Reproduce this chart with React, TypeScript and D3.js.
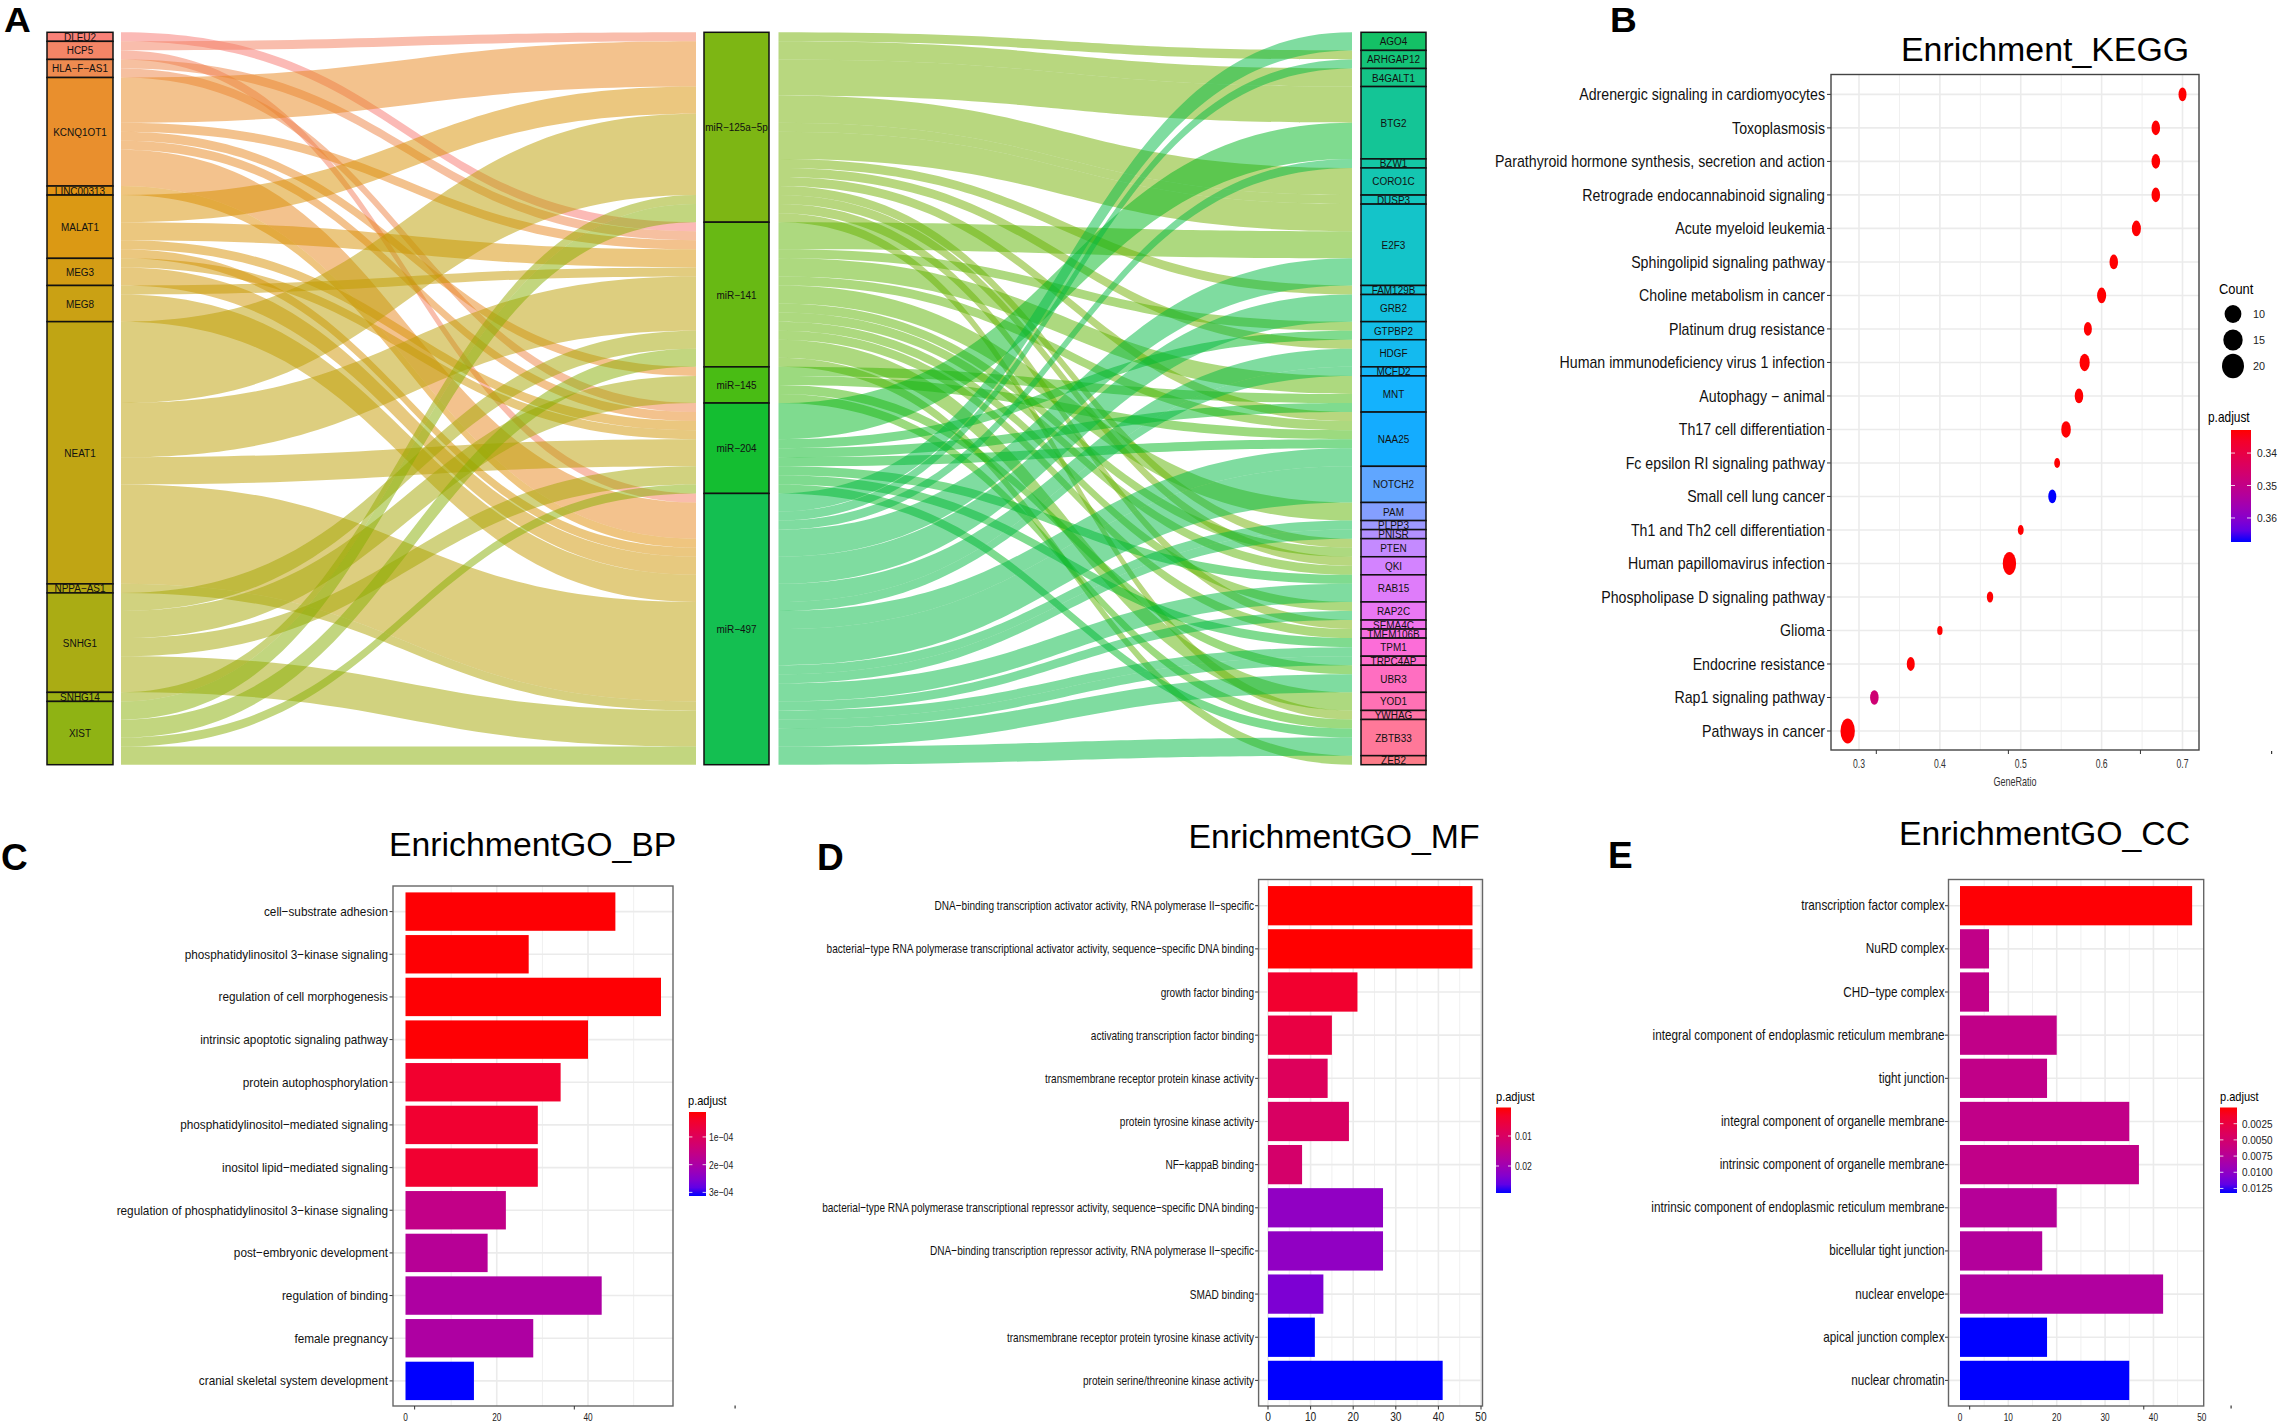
import React from "react";
import * as d3 from "d3";

// ---------- Panel A data ----------
const lncNodes = ["DLEU2","HCP5","HLA−F−AS1","KCNQ1OT1","LINC00313","MALAT1","MEG3","MEG8","NEAT1","NPPA−AS1","SNHG1","SNHG14","XIST"];
const mirNodes = ["miR−125a−5p","miR−141","miR−145","miR−204","miR−497"];
const targetNodes = ["AGO4","ARHGAP12","B4GALT1","BTG2","BZW1","CORO1C","DUSP3","E2F3","FAM129B","GRB2","GTPBP2","HDGF","MCFD2","MNT","NAA25","NOTCH2","PAM","PLPP3","PNISR","PTEN","QKI","RAB15","RAP2C","SEMA4C","TMEM106B","TPM1","TRPC4AP","UBR3","YOD1","YWHAG","ZBTB33","ZEB2"];

const lncMirLinks: [string, string, number][] = [
  ["DLEU2","miR−141",1],
  ["HCP5","miR−125a−5p",1],["HCP5","miR−497",1],
  ["HLA−F−AS1","miR−141",1],["HLA−F−AS1","miR−204",1],
  ["KCNQ1OT1","miR−125a−5p",5],["KCNQ1OT1","miR−141",1],["KCNQ1OT1","miR−145",1],["KCNQ1OT1","miR−204",1],["KCNQ1OT1","miR−497",4],
  ["LINC00313","miR−497",1],
  ["MALAT1","miR−125a−5p",3],["MALAT1","miR−141",2],["MALAT1","miR−204",1],["MALAT1","miR−497",1],
  ["MEG3","miR−204",1],["MEG3","miR−497",2],
  ["MEG8","miR−141",1],["MEG8","miR−497",3],
  ["NEAT1","miR−125a−5p",9],["NEAT1","miR−141",6],["NEAT1","miR−204",3],["NEAT1","miR−497",11],
  ["NPPA−AS1","miR−497",1],
  ["SNHG1","miR−141",2],["SNHG1","miR−145",3],["SNHG1","miR−204",2],["SNHG1","miR−497",4],
  ["SNHG14","miR−125a−5p",1],
  ["XIST","miR−125a−5p",2],["XIST","miR−141",2],["XIST","miR−204",1],["XIST","miR−497",2],
];
const mirTargetLinks: [string, string, number][] = [
  ["miR−125a−5p","ARHGAP12",1],["miR−125a−5p","B4GALT1",2],["miR−125a−5p","BTG2",4],["miR−125a−5p","CORO1C",3],["miR−125a−5p","DUSP3",1],["miR−125a−5p","E2F3",3],["miR−125a−5p","FAM129B",1],["miR−125a−5p","HDGF",1],["miR−125a−5p","NAA25",1],["miR−125a−5p","PTEN",1],["miR−125a−5p","QKI",1],["miR−125a−5p","SEMA4C",1],["miR−125a−5p","YWHAG",1],
  ["miR−141","E2F3",3],["miR−141","GTPBP2",1],["miR−141","MNT",2],["miR−141","NAA25",1],["miR−141","PAM",2],["miR−141","PTEN",1],["miR−141","QKI",1],["miR−141","RAP2C",1],["miR−141","TMEM106B",1],["miR−141","YOD1",2],["miR−141","ZEB2",1],
  ["miR−145","MNT",1],["miR−145","NAA25",1],["miR−145","UBR3",1],["miR−145","ZBTB33",1],
  ["miR−204","BTG2",4],["miR−204","GTPBP2",1],["miR−204","MNT",1],["miR−204","NAA25",1],["miR−204","RAB15",1],["miR−204","TPM1",1],["miR−204","ZBTB33",1],
  ["miR−497","AGO4",2],["miR−497","ARHGAP12",1],["miR−497","BZW1",1],["miR−497","E2F3",3],["miR−497","GRB2",3],["miR−497","HDGF",2],["miR−497","MCFD2",1],["miR−497","NAA25",2],["miR−497","NOTCH2",4],["miR−497","PLPP3",1],["miR−497","PNISR",1],["miR−497","RAB15",2],["miR−497","RAP2C",1],["miR−497","TPM1",1],["miR−497","TRPC4AP",1],["miR−497","UBR3",2],["miR−497","ZBTB33",2],
];

// ---------- Panel B data ----------
const keggTerms = ["Adrenergic signaling in cardiomyocytes","Toxoplasmosis","Parathyroid hormone synthesis, secretion and action","Retrograde endocannabinoid signaling","Acute myeloid leukemia","Sphingolipid signaling pathway","Choline metabolism in cancer","Platinum drug resistance","Human immunodeficiency virus 1 infection","Autophagy − animal","Th17 cell differentiation","Fc epsilon RI signaling pathway","Small cell lung cancer","Th1 and Th2 cell differentiation","Human papillomavirus infection","Phospholipase D signaling pathway","Glioma","Endocrine resistance","Rap1 signaling pathway","Pathways in cancer"];
const keggRatio = [0.7,0.667,0.667,0.667,0.643,0.615,0.6,0.583,0.579,0.572,0.556,0.545,0.539,0.5,0.486,0.462,0.4,0.364,0.319,0.286];
const keggCount = [10,11,11,11,12,11,12,10,14,11,13,6,10,6,20,7,5,10,11,22];
const keggP = [0.333,0.333,0.333,0.333,0.333,0.333,0.333,0.333,0.333,0.333,0.333,0.333,0.3674,0.333,0.333,0.333,0.333,0.333,0.347,0.333];

// ---------- Panel C data ----------
const bpTerms = ["cell−substrate adhesion","phosphatidylinositol 3−kinase signaling","regulation of cell morphogenesis","intrinsic apoptotic signaling pathway","protein autophosphorylation","phosphatidylinositol−mediated signaling","inositol lipid−mediated signaling","regulation of phosphatidylinositol 3−kinase signaling","post−embryonic development","regulation of binding","female pregnancy","cranial skeletal system development"];
const bpCount = [46,27,56,40,34,29,29,22,18,43,28,15];
const bpP = [1.2e-5,1.2e-5,1.2e-5,1.2e-5,4.6e-5,4.8e-5,4.8e-5,1.6e-4,1.8e-4,1.95e-4,1.95e-4,3.13e-4];

// ---------- Panel D data ----------
const mfTerms = ["DNA−binding transcription activator activity, RNA polymerase II−specific","bacterial−type RNA polymerase transcriptional activator activity, sequence−specific DNA binding","growth factor binding","activating transcription factor binding","transmembrane receptor protein kinase activity","protein tyrosine kinase activity","NF−kappaB binding","bacterial−type RNA polymerase transcriptional repressor activity, sequence−specific DNA binding","DNA−binding transcription repressor activity, RNA polymerase II−specific","SMAD binding","transmembrane receptor protein tyrosine kinase activity","protein serine/threonine kinase activity"];
const mfCount = [48,48,21,15,14,19,8,27,27,13,11,41];
const mfP = [0.0005,0.0005,0.0039,0.0062,0.0091,0.01,0.011,0.0219,0.0219,0.0239,0.029,0.029];

// ---------- Panel E data ----------
const ccTerms = ["transcription factor complex","NuRD complex","CHD−type complex","integral component of endoplasmic reticulum membrane","tight junction","integral component of organelle membrane","intrinsic component of organelle membrane","intrinsic component of endoplasmic reticulum membrane","bicellular tight junction","nuclear envelope","apical junction complex","nuclear chromatin"];
const ccCount = [48,6,6,20,18,35,37,20,17,42,18,35];
const ccP = [0.0001,0.0066,0.0066,0.0066,0.0066,0.0066,0.0066,0.0075,0.0077,0.0079,0.0132,0.0132];

const FONT = "'Liberation Sans', Arial, sans-serif";

// R's hcl() works in polar LUV, which is where the ggplot hue palette comes from.
function hueColor(h: number, c = 100, l = 65) {
  const r = (h * Math.PI) / 180;
  const u = c * Math.cos(r), v = c * Math.sin(r);
  const Y = Math.pow((l + 16) / 116, 3);
  const U = u / (13 * l) + 0.19793943, V = v / (13 * l) + 0.46831096;
  const X = (9 * Y * U) / (4 * V);
  const Z = -X / 3 - 5 * Y + (3 * Y) / V;
  const lin = [3.2406 * X - 1.5372 * Y - 0.4986 * Z, -0.9689 * X + 1.8758 * Y + 0.0415 * Z, 0.0557 * X - 0.204 * Y + 1.057 * Z];
  const g = lin.map((p) => {
    const q = Math.max(0, Math.min(1, p));
    return 255 * (q <= 0.0031308 ? 12.92 * q : 1.055 * Math.pow(q, 1 / 2.4) - 0.055);
  });
  return d3.rgb(g[0], g[1], g[2]).formatHex();
}
const allNodes = [...lncNodes, ...mirNodes, ...targetNodes];
const nodeColor = (n: string) => hueColor(15 + (360 * allNodes.indexOf(n)) / allNodes.length);
const gradient = d3.interpolateLab("#ff0000", "#0000ff");

function Txt({ x, y, size, sx = 1, anchor = "start", weight, fill = "#000", children }: any) {
  return (
    <text transform={`translate(${x},${y}) scale(${sx},1)`} fontSize={size} textAnchor={anchor} fontWeight={weight} fill={fill} fontFamily={FONT}>
      {children}
    </text>
  );
}

// ---------- Sankey ----------
function stack(nodes: string[], links: [string, string, number][], idx: 0 | 1) {
  const pos = new Map<string, [number, number]>();
  let c = 0;
  nodes.forEach((n) => {
    const w = d3.sum(links.filter((l) => l[idx] === n), (l) => l[2]);
    pos.set(n, [c, c + w]);
    c += w;
  });
  return pos;
}
const xColLnc: [number, number] = [47, 113];
const xColMir: [number, number] = [704, 769];
const xColTar: [number, number] = [1361, 1426];
const totalUnits = d3.sum(lncMirLinks, (l) => l[2]);
const yUnit = d3.scaleLinear().domain([0, totalUnits]).range([32.3, 764.7]);
const ribbon = d3.area<any>().x((d) => d.x).y0((d) => d.y0).y1((d) => d.y1).curve(d3.curveBumpX);

function Flows({ links, leftNodes, rightNodes, x0, x1 }: any) {
  const lp = stack(leftNodes, links, 0);
  const rp = stack(rightNodes, links, 1);
  const lOff = new Map<string, number>();
  const rOff = new Map<string, number>();
  const sortedLeft = [...links].sort((a: any, b: any) => leftNodes.indexOf(a[0]) - leftNodes.indexOf(b[0]) || rightNodes.indexOf(a[1]) - rightNodes.indexOf(b[1]));
  return (
    <g>
      {sortedLeft.map((l: any, i: number) => {
        const [s, t, w] = l;
        const a = lp.get(s)![0] + (lOff.get(s) || 0);
        lOff.set(s, (lOff.get(s) || 0) + w);
        const b = rp.get(t)![0] + (rOff.get(t) || 0);
        rOff.set(t, (rOff.get(t) || 0) + w);
        return (
          <path key={i} fill={nodeColor(s)} fillOpacity={0.5}
            d={ribbon([{ x: x0, y0: yUnit(a), y1: yUnit(a + w) }, { x: x1, y0: yUnit(b), y1: yUnit(b + w) }]) as string} />
        );
      })}
    </g>
  );
}
function Strata({ nodes, pos, x }: any) {
  return (
    <g>
      {nodes.map((n: string) => {
        const [a, b] = pos.get(n);
        const y0 = yUnit(a), y1 = yUnit(b);
        return (
          <g key={n}>
            <rect x={x[0]} y={y0} width={x[1] - x[0]} height={y1 - y0} fill={nodeColor(n)} fillOpacity={0.92} stroke="#111" strokeWidth={1.5} />
            <Txt x={(x[0] + x[1]) / 2} y={(y0 + y1) / 2 + 4} size={10.6} sx={0.94} anchor="middle" fill="#111">{n}</Txt>
          </g>
        );
      })}
    </g>
  );
}
function PanelA() {
  return (
    <g>
      <Flows links={lncMirLinks} leftNodes={lncNodes} rightNodes={mirNodes} x0={121} x1={696} />
      <Flows links={mirTargetLinks} leftNodes={mirNodes} rightNodes={targetNodes} x0={778.5} x1={1352} />
      <Strata nodes={lncNodes} pos={stack(lncNodes, lncMirLinks, 0)} x={xColLnc} />
      <Strata nodes={mirNodes} pos={stack(mirNodes, lncMirLinks, 1)} x={xColMir} />
      <Strata nodes={targetNodes} pos={stack(targetNodes, mirTargetLinks, 1)} x={xColTar} />
    </g>
  );
}

// ---------- Legend colour bar ----------
function ColorBar({ title, titleX, titleY, x0, x1, y0, y1, domain, ticks, labels, labelX, id, size = 10.5, sx = 0.9, titleSize = 13.5, titleSx = 0.85 }: any) {
  const y = d3.scaleLinear().domain(domain).range([y0, y1]);
  const w = x1 - x0;
  const stops = d3.range(0, 1.001, 0.1);
  return (
    <g>
      <defs>
        <linearGradient id={id} x1="0" y1="0" x2="0" y2="1">
          {stops.map((t) => <stop key={t} offset={t} stopColor={gradient(t)} />)}
        </linearGradient>
      </defs>
      <Txt x={titleX} y={titleY} size={titleSize} sx={titleSx}>{title}</Txt>
      <rect x={x0} y={y0} width={w} height={y1 - y0} fill={`url(#${id})`} />
      {ticks.map((t: number, i: number) => (
        <g key={t}>
          <line x1={x0} x2={x0 + w / 5} y1={y(t)} y2={y(t)} stroke="#fff" strokeOpacity={0.8} />
          <line x1={x1 - w / 5} x2={x1} y1={y(t)} y2={y(t)} stroke="#fff" strokeOpacity={0.8} />
          <Txt x={labelX} y={y(t) + 4} size={size} sx={sx} fill="#222">{labels[i]}</Txt>
        </g>
      ))}
    </g>
  );
}

// ---------- Panel frame ----------
function Frame({ left, right, top, bottom, x, rows, xMajor, xMinor }: any) {
  return (
    <g>
      <rect x={left} y={top} width={right - left} height={bottom - top} fill="#fff" />
      {xMinor.map((v: number) => <line key={v} x1={x(v)} x2={x(v)} y1={top} y2={bottom} stroke="#f0f0f0" strokeWidth={1} />)}
      {xMajor.map((v: number) => <line key={v} x1={x(v)} x2={x(v)} y1={top} y2={bottom} stroke="#ebebeb" strokeWidth={1.6} />)}
      {rows.map((v: number, i: number) => <line key={i} x1={left} x2={right} y1={v} y2={v} stroke="#ebebeb" strokeWidth={1.6} />)}
    </g>
  );
}

// ---------- Panel B ----------
const keggMajor = [0.3, 0.4, 0.5, 0.6, 0.7];
const keggMinor = [0.35, 0.45, 0.55, 0.65];
const keggTickMarks = [0.3214, 0.4847, 0.648];
const countKeys = [10, 15, 20];
function PanelB() {
  const left = 1831, right = 2199, top = 74.5, bottom = 750;
  const x = d3.scaleLinear().domain([0.3, 0.7]).range([1859, 2182.5]);
  const y = d3.scalePoint<string>().domain(keggTerms).range([94.4, 731]);
  const pColor = d3.scaleLinear<number>().domain([0.3329, 0.3674]).range([0, 1]);
  const ry = d3.scaleLinear().domain([5, 22]).range([4.6, 12.4]);
  const keyRy = d3.scaleLinear().domain([10, 20]).range([8.9, 12.2]);
  const keyRx = d3.scaleLinear().domain([10, 20]).range([8.4, 11]);
  const keyY = d3.scalePoint<number>().domain(countKeys).range([314, 366]);
  return (
    <g>
      <Txt x={1901} y={61} size={33.9}>Enrichment_KEGG</Txt>
      <Frame left={left} right={right} top={top} bottom={bottom} x={x} rows={keggTerms.map((t) => y(t))} xMajor={keggMajor} xMinor={keggMinor} />
      {keggTerms.map((t, i) => (
        <g key={t}>
          <ellipse cx={x(keggRatio[i])} cy={y(t)!} rx={ry(keggCount[i]) * 0.58} ry={ry(keggCount[i])} fill={gradient(Math.max(0, pColor(keggP[i])))} />
          <line x1={left - 4} x2={left} y1={y(t)} y2={y(t)} stroke="#333" />
          <Txt x={left - 6} y={y(t)! + 6} size={16.2} sx={0.875} anchor="end" fill="#111">{t}</Txt>
        </g>
      ))}
      <rect x={left} y={top} width={right - left} height={bottom - top} fill="none" stroke="#444" strokeWidth={1.4} />
      {keggTickMarks.map((v) => <line key={v} x1={x(v)} x2={x(v)} y1={bottom} y2={bottom + 4} stroke="#333" />)}
      {keggMajor.map((v) => <Txt key={v} x={x(v)} y={768} size={12} sx={0.72} anchor="middle" fill="#333">{v.toFixed(1)}</Txt>)}
      <Txt x={2015} y={786} size={12.5} sx={0.72} anchor="middle" fill="#333">GeneRatio</Txt>
      <Txt x={2219} y={294} size={14} sx={0.92}>Count</Txt>
      {countKeys.map((c) => (
        <g key={c}>
          <ellipse cx={2233} cy={keyY(c)!} rx={keyRx(c)} ry={keyRy(c)} fill="#000" />
          <Txt x={2253} y={keyY(c)! + 4} size={10.8} fill="#222">{c}</Txt>
        </g>
      ))}
      <ColorBar id="gB" title="p.adjust" titleX={2208} titleY={422} titleSize={14} x0={2231} x1={2251} y0={430} y1={542} domain={[0.3329, 0.3674]} ticks={[0.34, 0.35, 0.36]} labels={["0.34", "0.35", "0.36"]} labelX={2257} size={10.8} sx={0.95} />
      <rect x={2271} y={751} width={1.2} height={3} fill="#333" />
    </g>
  );
}

// ---------- Bar panels ----------
function BarPanel({ terms, counts, ps, pDomain, title, titleX, titleY, left, right, top, bottom, zeroX, refV, refX, yFirst, yLast, major, minor, tickMarks, labelled, labelRight, labelSize, labelSx, tickSx, tickSize, bandFrac }: any) {
  const x = d3.scaleLinear().domain([0, refV]).range([zeroX, refX]);
  const step = (yLast - yFirst) / (terms.length - 1);
  const y = d3.scaleBand<string>().domain(terms).range([yFirst - step / 2, yLast + step / 2]).paddingInner(bandFrac).paddingOuter(bandFrac / 2);
  const t = d3.scaleLinear().domain(pDomain).range([0, 1]).clamp(true);
  return (
    <g>
      <Txt x={titleX} y={titleY} size={33.8}>{title}</Txt>
      <Frame left={left} right={right} top={top} bottom={bottom} x={x} rows={terms.map((d: string) => y(d)! + y.bandwidth() / 2)} xMajor={major} xMinor={minor} />
      {terms.map((d: string, i: number) => (
        <g key={d}>
          <rect x={x(0)} y={y(d)!} width={x(counts[i]) - x(0)} height={y.bandwidth()} fill={gradient(t(ps[i]))} />
          <line x1={left - 3.5} x2={left} y1={y(d)! + y.bandwidth() / 2} y2={y(d)! + y.bandwidth() / 2} stroke="#333" />
          <Txt x={labelRight} y={y(d)! + y.bandwidth() / 2 + 4.5} size={labelSize} sx={labelSx} anchor="end" fill="#111">{d}</Txt>
        </g>
      ))}
      <rect x={left} y={top} width={right - left} height={bottom - top} fill="none" stroke="#666" strokeWidth={1.4} />
      {tickMarks.map((v: number) => <line key={v} x1={x(v)} x2={x(v)} y1={bottom} y2={bottom + 3.5} stroke="#333" />)}
      {labelled.map((v: number) => <Txt key={v} x={x(v)} y={1420.5} size={tickSize} sx={tickSx} anchor="middle" fill="#222">{v}</Txt>)}
    </g>
  );
}

const bpLabelled = [0, 20, 40];
const bpMajor = [20, 40];
const bpMinor = [10, 30, 50];
const bpTickMarks = [2, 37];
const mfLabelled = [0, 10, 20, 30, 40, 50];
const mfMajor = [0, 10, 20, 30, 40, 50];
const mfMinor = [5, 15, 25, 35, 45];
const ccLabelled = [0, 10, 20, 30, 40, 50];
const ccMajor = [10, 20, 30, 40];
const ccMinor = [5, 15, 25, 35, 45];
const ccTickMarks = [2, 38];

export default function App() {
  return (
    <svg width={2281} height={1423} viewBox="0 0 2281 1423" style={{ position: "absolute", left: 0, top: 0, background: "#fff" }}>
      <PanelA />
      <PanelB />
      <BarPanel terms={bpTerms} counts={bpCount} ps={bpP} pDomain={[1e-5, 3.13e-4]} title="EnrichmentGO_BP" titleX={389} titleY={856}
        left={393} right={673} top={886} bottom={1406} zeroX={405.5} refV={40} refX={588} yFirst={911.6} yLast={1380.9}
        major={bpMajor} minor={bpMinor} tickMarks={bpTickMarks} labelled={bpLabelled} labelRight={388} labelSize={13.6} labelSx={0.866} tickSize={11.5} tickSx={0.72} bandFrac={0.1} />
      <ColorBar id="gC" title="p.adjust" titleX={688} titleY={1105} titleSize={13} x0={689} x1={706} y0={1112} y1={1196} domain={[1e-5, 3.13e-4]} ticks={[1e-4, 2e-4, 3e-4]} labels={["1e−04", "2e−04", "3e−04"]} labelX={709} size={10.5} sx={0.82} />
      <rect x={734.5} y={1405.5} width={1.2} height={3} fill="#333" />

      <BarPanel terms={mfTerms} counts={mfCount} ps={mfP} pDomain={[0.0005, 0.029]} title="EnrichmentGO_MF" titleX={1188.5} titleY={847.5}
        left={1258.6} right={1482.5} top={879.5} bottom={1406} zeroX={1268} refV={50} refX={1481} yFirst={905.7} yLast={1380.4}
        major={mfMajor} minor={mfMinor} tickMarks={mfLabelled} labelled={mfLabelled} labelRight={1254} labelSize={13.6} labelSx={0.74} tickSize={12} tickSx={0.85} bandFrac={0.09} />
      <ColorBar id="gD" title="p.adjust" titleX={1496} titleY={1101} titleSize={13} x0={1496} x1={1511} y0={1107.5} y1={1193} domain={[0.0005, 0.029]} ticks={[0.01, 0.02]} labels={["0.01", "0.02"]} labelX={1515} size={10.5} sx={0.82} />

      <BarPanel terms={ccTerms} counts={ccCount} ps={ccP} pDomain={[0, 0.0132]} title="EnrichmentGO_CC" titleX={1899} titleY={844.5}
        left={1948.5} right={2203.7} top={879.5} bottom={1406} zeroX={1960} refV={50} refX={2201.8} yFirst={905.7} yLast={1380.4}
        major={ccMajor} minor={ccMinor} tickMarks={ccTickMarks} labelled={ccLabelled} labelRight={1944.5} labelSize={13.8} labelSx={0.85} tickSize={11.5} tickSx={0.72} bandFrac={0.09} />
      <ColorBar id="gE" title="p.adjust" titleX={2220} titleY={1101} titleSize={13} x0={2220} x1={2237} y0={1107.5} y1={1193} domain={[0, 0.0132]} ticks={[0.0025, 0.005, 0.0075, 0.01, 0.0125]} labels={["0.0025", "0.0050", "0.0075", "0.0100", "0.0125"]} labelX={2242} size={10.5} sx={0.95} />
      <rect x={2230.5} y={1405.5} width={1.2} height={3} fill="#333" />

      <Txt x={4} y={32} size={35} sx={1.06} weight="bold">A</Txt>
      <Txt x={1610} y={32} size={35} sx={1.06} weight="bold">B</Txt>
      <Txt x={1} y={870} size={37} weight="bold">C</Txt>
      <Txt x={817} y={870} size={37} weight="bold">D</Txt>
      <Txt x={1608} y={868} size={37} weight="bold">E</Txt>
    </svg>
  );
}
